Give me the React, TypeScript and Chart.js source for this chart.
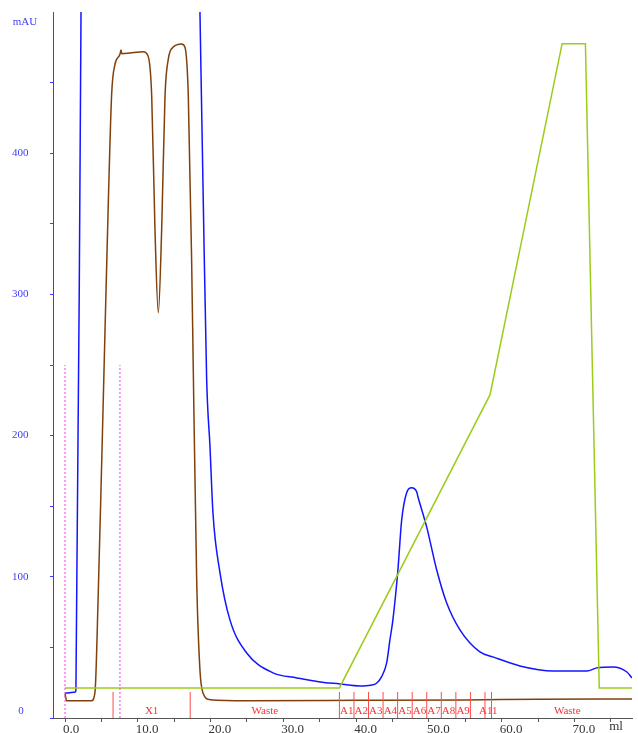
import React, { useEffect, useRef } from "react";
import { Chart, registerables } from "chart.js";

Chart.register(...registerables);

// UV trace (blue)
const uvVolumeMl = [0, 1.45, 1.5, 2.2, 2.35, 18.2, 18.54, 19.0, 19.46, 19.92, 20.33, 21.29, 22.66, 24.96, 28.57, 31.87, 35.03, 37.77, 40.5, 42.0, 42.8, 43.5, 44.19, 44.64, 45.05, 45.74, 46.25, 46.94, 47.62, 48.31, 48.49, 49.68, 51.06, 52.43, 54.26, 57.0, 58.79, 62.5, 67.03, 71.7, 73.08, 75.27, 77.2, 77.88];
const uvMAU = [17.7, 18.4, 20, 500, 600, 600, 500, 365, 240, 192, 145, 103, 69.5, 46, 32, 28.4, 25.5, 24.1, 22.7, 23.2, 24.6, 29.3, 39, 55.3, 69.5, 105, 140, 159.6, 163.1, 160.3, 156.7, 135.5, 105, 81.6, 62.4, 46.8, 43.3, 36.9, 33.3, 33.3, 35.5, 36.2, 32.6, 28.4];

// Conductivity trace (brown)
const condVolumeMl = [0, 0.23, 3.65, 4.12, 4.57, 5.04, 5.49, 5.95, 6.41, 6.87, 7.55, 7.69, 7.8, 8.93, 10.71, 11.4, 11.91, 12.36, 12.82, 13.28, 13.74, 14.19, 14.84, 16.03, 16.48, 16.94, 17.4, 17.62, 18.09, 18.54, 18.96, 19.92, 25, 40, 55, 65, 77.9];
const condValues = [17, 12.2, 12.2, 18.4, 88.7, 181, 273, 365, 442, 463, 470, 473, 470.5, 471, 471.8, 469, 440.6, 346, 287, 346, 440.6, 466.7, 475, 477.3, 475, 440.6, 322.7, 248, 97.9, 34, 17.7, 13.0, 12.3, 12.5, 12.8, 13.3, 13.5];

// Concentration trace (green)
const concVolumeMl = [0, 37.7, 58.4, 68.3, 71.5, 73.4, 77.9];
const concValues = [21.3, 21.3, 229, 477.6, 477.6, 21.3, 21.3];

// Fractions
const fractionMarksMl = [6.6, 17.2, 37.7, 39.7, 41.7, 43.7, 45.7, 47.7, 49.7, 51.7, 53.7, 55.7, 57.7, 58.6];
const fractionLabels = ["X1", "Waste", "A1", "A2", "A3", "A4", "A5", "A6", "A7", "A8", "A9", "A11", "Waste"];
const fractionLabelMl = [11.9, 27.45, 38.7, 40.7, 42.7, 44.7, 46.7, 48.7, 50.7, 52.7, 54.7, 58.15, 69.0];
const fractionMarkHeight = 18.4;

// Injection marks
const injectionMl = [0, 7.55];
const injectionHeight = 250;

// Axis ticks
const yTickValues = [0, 50, 100, 150, 200, 250, 300, 350, 400, 450];
const xTickValues = [0, 5, 10, 15, 20, 25, 30, 35, 40, 45, 50, 55, 60, 65, 70, 75];

const SERIF = "'Liberation Serif', 'Times New Roman', serif";
const BLUE_AXIS = "#3c3cff";
const DARK = "#333333";
const RED = "#ff3030";

function zip(xs: number[], ys: number[]) {
  return xs.map((x, i) => ({ x, y: ys[i] }));
}

function marks(xs: number[], h: number) {
  const out: { x: number; y: number | null }[] = [];
  xs.forEach((x) => {
    out.push({ x, y: 0 });
    out.push({ x, y: h });
    out.push({ x, y: null });
  });
  return out;
}

const textPlugin = {
  id: "extraText",
  afterDraw(chart: any) {
    const ctx = chart.ctx;
    const xs = chart.scales.x;
    const ys = chart.scales.y;
    ctx.save();
    ctx.textAlign = "center";
    ctx.textBaseline = "middle";
    ctx.font = `11px ${SERIF}`;
    ctx.fillStyle = BLUE_AXIS;
    ctx.fillText("mAU", 25, 22);
    ctx.fillText("0", 21, ys.getPixelForValue(0) - 7);
    ctx.fillStyle = DARK;
    ctx.font = `13px ${SERIF}`;
    ctx.fillText("ml", 616, 727);
    ctx.font = `11px ${SERIF}`;
    ctx.fillStyle = RED;
    fractionLabels.forEach((t, i) => {
      ctx.fillText(t, xs.getPixelForValue(fractionLabelMl[i]), ys.getPixelForValue(0) - 7);
    });
    ctx.restore();
  },
};

export default function App() {
  const ref = useRef<HTMLCanvasElement | null>(null);
  useEffect(() => {
    if (!ref.current) return;
    const chart = new Chart(ref.current, {
      type: "line",
      data: {
        datasets: [
          {
            data: marks(injectionMl, injectionHeight),
            borderColor: "#ff33ff",
            borderWidth: 1,
            borderDash: [2, 2],
            pointRadius: 0,
            spanGaps: false,
          },
          {
            data: marks(fractionMarksMl, fractionMarkHeight),
            borderColor: "#ff4a4a",
            borderWidth: 1,
            pointRadius: 0,
            spanGaps: false,
          },
          {
            data: zip(concVolumeMl, concValues),
            borderColor: "#9ccc1a",
            borderWidth: 1.5,
            pointRadius: 0,
          },
          {
            data: zip(condVolumeMl, condValues),
            borderColor: "#7f400c",
            borderWidth: 1.5,
            pointRadius: 0,
            cubicInterpolationMode: "monotone",
          },
          {
            data: zip(uvVolumeMl, uvMAU),
            borderColor: "#1414ff",
            borderWidth: 1.5,
            pointRadius: 0,
            cubicInterpolationMode: "monotone",
          },
        ],
      },
      options: {
        animation: false,
        responsive: true,
        maintainAspectRatio: false,
        layout: { padding: { left: 12, top: 12, right: 6, bottom: 0 } },
        plugins: { legend: { display: false }, tooltip: { enabled: false } },
        scales: {
          x: {
            type: "linear",
            min: -1.65,
            max: 77.9,
            grid: { drawOnChartArea: false, drawTicks: true, tickLength: 4, color: "#555" },
            border: { color: "#555", width: 1 },
            ticks: {
              autoSkip: false,
              maxRotation: 0,
              align: "start",
              labelOffset: -2,
              padding: 0,
              color: DARK,
              font: { family: SERIF, size: 13 },
              callback: (v: any) => (Number(v) % 10 === 0 ? Number(v).toFixed(1) : ""),
            },
            afterBuildTicks: (s: any) => {
              s.ticks = xTickValues.map((value) => ({ value }));
            },
            afterFit: (s: any) => {
              s.height = 15;
            },
          },
          y: {
            type: "linear",
            min: 0,
            max: 500,
            grid: { drawOnChartArea: false, drawTicks: true, tickLength: 3, color: BLUE_AXIS },
            border: { color: BLUE_AXIS, width: 1 },
            ticks: {
              crossAlign: "far",
              padding: 0,
              color: BLUE_AXIS,
              font: { family: SERIF, size: 11 },
              callback: (v: any) => (Number(v) % 100 === 0 && Number(v) !== 0 ? String(v) : ""),
            },
            afterBuildTicks: (s: any) => {
              s.ticks = yTickValues.map((value) => ({ value }));
            },
            afterFit: (s: any) => {
              s.width = 41;
            },
          },
        },
      },
      plugins: [textPlugin],
    });
    return () => chart.destroy();
  }, []);
  return (
    <div style={{ position: "absolute", left: 0, top: 0, width: 638, height: 733, background: "#fff" }}>
      <canvas ref={ref} />
    </div>
  );
}
